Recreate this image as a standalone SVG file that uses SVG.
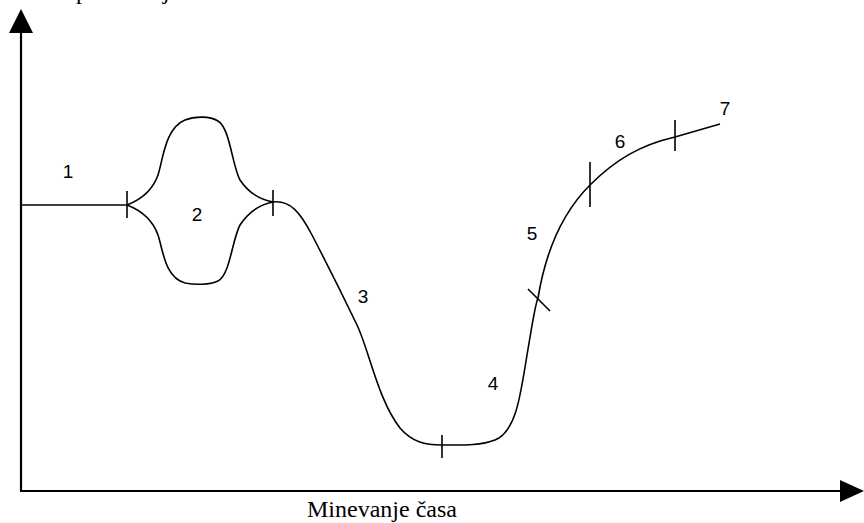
<svg xmlns="http://www.w3.org/2000/svg" width="864" height="523" viewBox="0 0 864 523">
<style>
.axis{stroke:#000;stroke-width:2.2;fill:none}
.curve{stroke:#000;stroke-width:1.6;fill:none}
.tick{stroke:#000;stroke-width:1.6}
.lbl{font-family:"Liberation Sans",Arial,sans-serif;font-size:19px;fill:#000}
.ttl{font-family:"Liberation Serif","Times New Roman",serif;font-size:24px;fill:#000}
</style>
<rect width="864" height="523" fill="#fff"/>
<g id="axes">
<line class="axis" x1="21" y1="28" x2="21" y2="491"/>
<line class="axis" x1="20" y1="491" x2="842" y2="491"/>
<polygon points="21,9 33,33 9,33" fill="#000"/>
<polygon points="864,491 840,480 840,502" fill="#000"/>
</g>
<g id="connectors">
<path class="curve" d="M21,205 L127,205"/>
<path class="curve" d="M127,205 C140,200 152,192 158,175 C163,160 165,128 185,120 C195,116 210,116 218,121 C230,128 232,165 240,180 C250,195 262,200 273,202"/>
<path class="curve" d="M127,205 C140,210 152,218 158,235 C163,250 165,278 185,283 C195,285 210,285 218,281 C230,275 232,240 240,225 C250,210 262,204 273,202"/>
<path class="curve" d="M273,202 C290,200 300,212 312,235 C325,260 345,300 357,325 C369,350 378,400 400,428 C412,442 425,445 442,445 C460,445 480,446 495,440 C515,432 520,400 527,355 C533,320 535,305 538,298 C545,255 560,215 590,185 C615,160 640,145 675,137 L720,124"/>
</g>
<g id="ticks">
<line class="tick" x1="127" y1="191" x2="127" y2="218"/>
<line class="tick" x1="273" y1="190" x2="273" y2="216"/>
<line class="tick" x1="442" y1="435" x2="442" y2="458"/>
<line class="tick" x1="528" y1="289" x2="550" y2="311"/>
<line class="tick" x1="590" y1="162" x2="590" y2="207"/>
<line class="tick" x1="675" y1="120" x2="675" y2="151"/>
</g>
<g id="labels">
<text class="lbl" x="68" y="178" text-anchor="middle">1</text>
<text class="lbl" x="197" y="221" text-anchor="middle">2</text>
<text class="lbl" x="363" y="303" text-anchor="middle">3</text>
<text class="lbl" x="493" y="390" text-anchor="middle">4</text>
<text class="lbl" x="532" y="240" text-anchor="middle">5</text>
<text class="lbl" x="620" y="148" text-anchor="middle">6</text>
<text class="lbl" x="725" y="115" text-anchor="middle">7</text>
<text class="ttl" x="12" y="-1">Samospoštovanje</text>
<text class="ttl" x="307" y="517">Minevanje časa</text>
</g>
</svg>
